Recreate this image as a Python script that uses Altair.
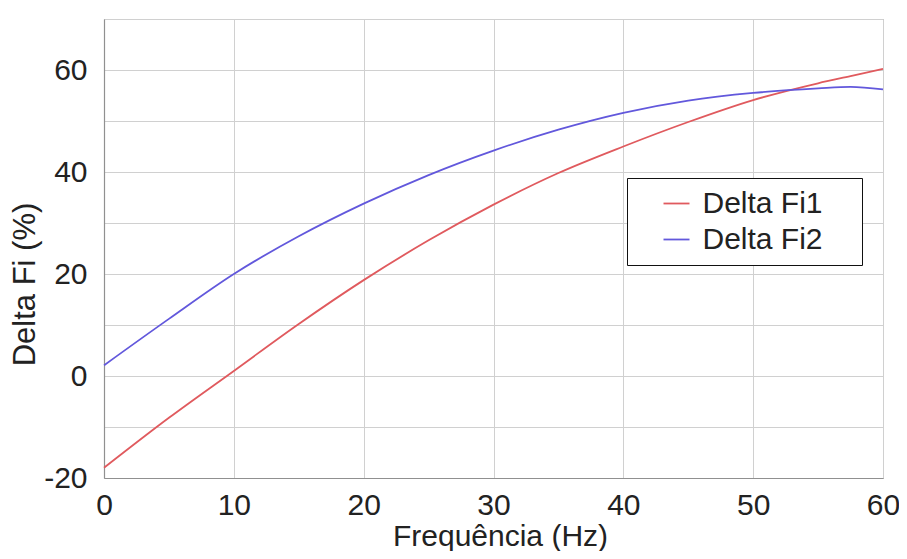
import altair as alt
import pandas as pd

freq = [0, 5, 10, 15, 20, 25, 30, 35, 40, 45, 50, 55, 57.5, 60]
fi1 = [-18.0, -8.2, 1.0, 10.2, 18.8, 26.6, 33.6, 39.8, 45.0, 49.8, 54.1, 57.4, 58.8, 60.2]
fi2 = [2.1, 11.2, 20.0, 27.4, 33.8, 39.4, 44.2, 48.3, 51.6, 54.0, 55.5, 56.4, 56.7, 56.2]
series_names = ["Delta Fi1", "Delta Fi2"]
series_colors = ["#e05a5e", "#6258dc"]

rows = []
for f, a, b in zip(freq, fi1, fi2):
    rows.append({"f": f, "v": a, "s": series_names[0]})
    rows.append({"f": f, "v": b, "s": series_names[1]})
df = pd.DataFrame(rows)

FONT = "Liberation Sans"

chart = alt.Chart(df).mark_line(strokeWidth=1.8, interpolate="monotone").encode(
    x=alt.X("f:Q", scale=alt.Scale(domain=[0, 60], nice=False),
            axis=alt.Axis(title="Frequência (Hz)", values=list(range(0, 61, 10)),
                          labelPadding=12, titleX=396, titleY=67,
                          titleBaseline="alphabetic")),
    y=alt.Y("v:Q", scale=alt.Scale(domain=[-20, 70], nice=False),
            axis=alt.Axis(title="Delta Fi (%)", values=list(range(-20, 71, 10)),
                          labelExpr="datum.value % 20 == 0 ? ('' + datum.value) : ''",
                          labelPadding=17, titleX=-79, titleY=265,
                          titleBaseline="middle", titleFontSize=31)),
    color=alt.Color("s:N", scale=alt.Scale(domain=series_names, range=series_colors),
                    legend=alt.Legend(title=None, orient="none", legendX=523, legendY=159,
                                      symbolType="stroke", symbolSize=676,
                                      symbolStrokeWidth=1.8, symbolOffset=24,
                                      labelOffset=11, rowPadding=6, labelLimit=400,
                                      padding=10.5, strokeColor="#111",
                                      labelExpr="datum.label + '\u2009\u2800'")),
).properties(
    width=779, height=459,
    autosize=alt.AutoSizeParams(type="none"),
    padding={"left": 96, "top": 11, "right": 16, "bottom": 73},
).configure_view(
    stroke="#a0a0a0", strokeWidth=1
).configure_axis(
    grid=True, gridColor="#d0d0d0", gridWidth=1,
    domainColor="#909090", domainWidth=1.2,
    ticks=False,
    labelFont=FONT, labelFontSize=30, labelColor="#222",
    titleFont=FONT, titleFontSize=30, titleColor="#222", titleFontWeight="normal",
    labelFlush=False, labelOverlap=False,
).configure_legend(
    labelFont=FONT, labelFontSize=30, labelColor="#222", fillColor="white"
)

chart.save("out.html", embed_options={"renderer": "svg", "actions": False})
